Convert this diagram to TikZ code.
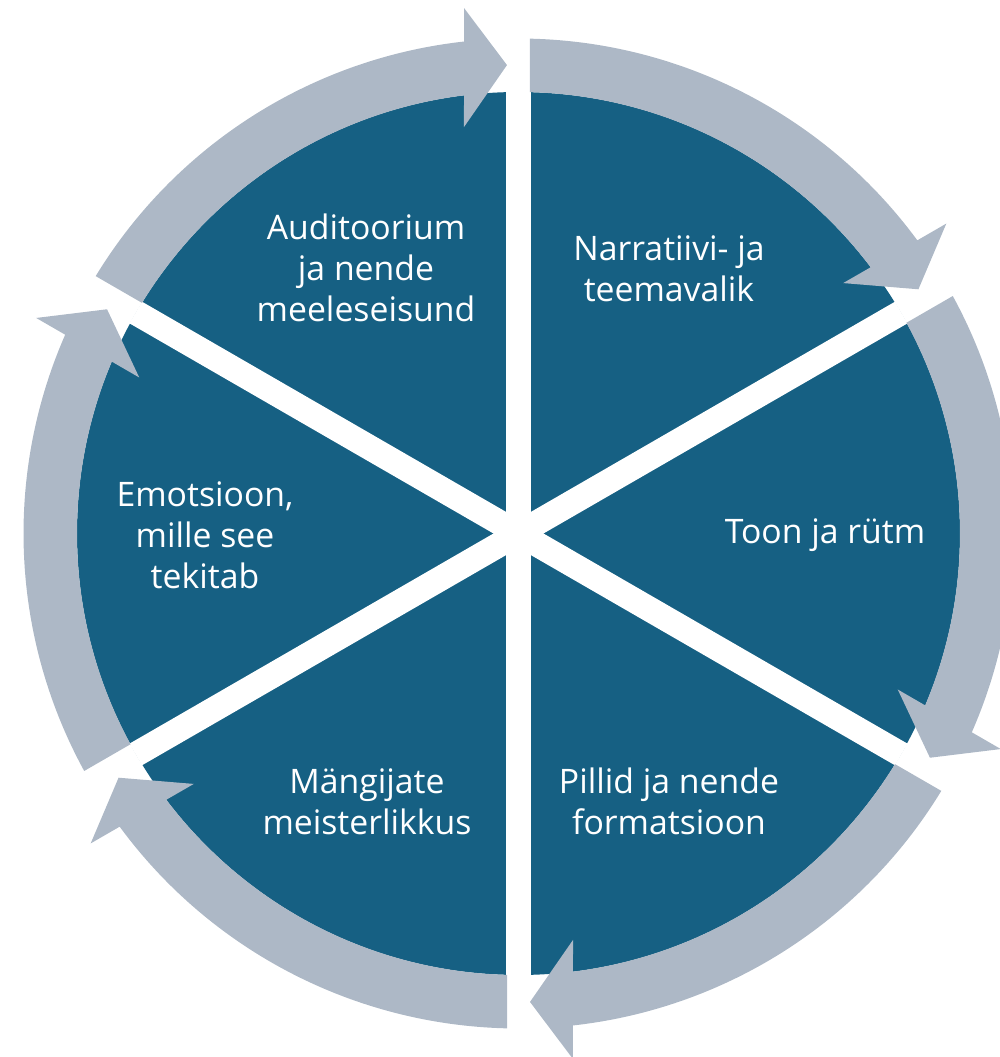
\documentclass[tikz,border=0pt]{standalone}
\usepackage{fontspec}
\setmainfont{Open Sans}
\definecolor{pieblue}{HTML}{166083}
\definecolor{ringgrey}{HTML}{ADB8C6}
\begin{document}
\begin{tikzpicture}[x=0.01cm,y=0.01cm,
  lbl/.style={text=white,align=center,inner sep=0pt,font=\fontsize{9.6}{11.7}\selectfont}]
\useasboundingbox (-518.5,-523.5) rectangle (480.5,533.5);
% pie
\fill[pieblue] (0,0) circle[radius=441.5];
% white gaps
\foreach \a in {90,30,-30}{
  \draw[white,line width=0.25cm] (\a:442) -- (\a+180:442);
}
% ring arrows
\foreach \g in {90,30,-30,-90,-150,150}{
  \fill[ringgrey] (\g+58.67:495) arc[start angle=\g+58.67, end angle=\g+6.32, radius=495]
    -- (\g+5.92:528.3) -- (\g+1.41:468.6) -- (\g+7.64:410.1)
    -- (\g+7.09:441.5) arc[start angle=\g+7.09, end angle=\g+58.51, radius=441.5] -- cycle;
}
% labels
\node[lbl] (aud) at (-152.5,265.5) {Auditoorium\\ja nende\\meeleseisund};
\node[lbl] (nar) at (150.5,265) {Narratiivi- ja\\teemavalik};
\node[lbl] (toon) at (306.5,-1.5) {Toon ja rütm};
\node[lbl] (pill) at (150.5,-268) {Pillid ja nende\\formatsioon};
\node[lbl] (mang) at (-151.5,-268) {Mängijate\\meisterlikkus};
\node[lbl] (emo) at (-313.5,-1.5) {Emotsioon,\\mille see\\tekitab};
\end{tikzpicture}
\end{document}
